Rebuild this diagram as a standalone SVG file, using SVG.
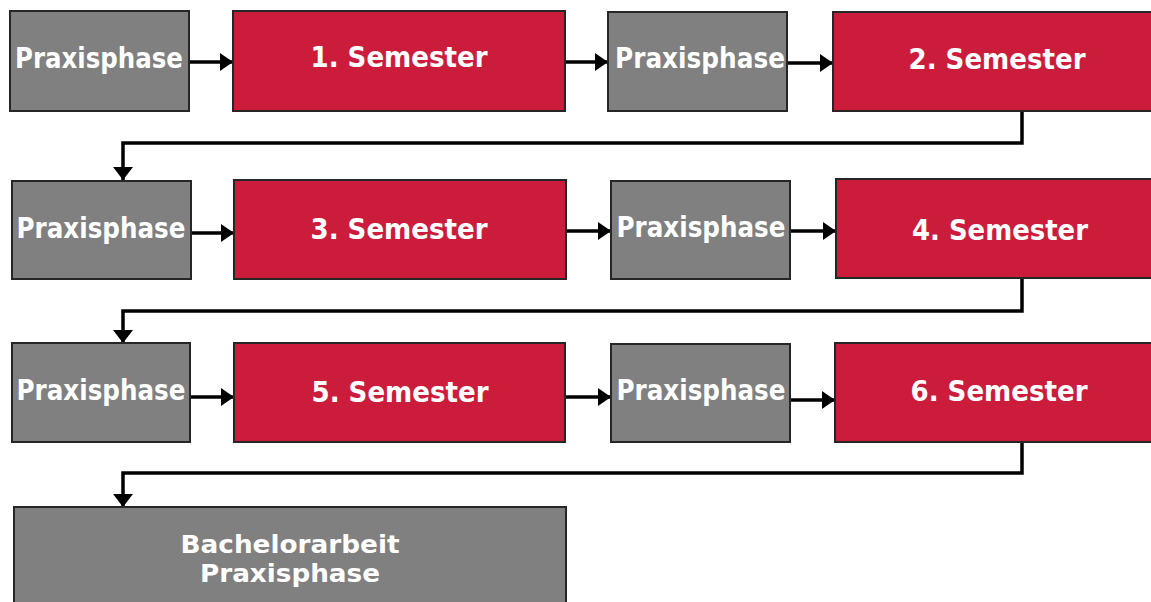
<svg xmlns="http://www.w3.org/2000/svg" width="1151" height="602" viewBox="0 0 1151 602">
<style>
.g{fill:#808080;stroke:#262626;stroke-width:2}
.r{fill:#CC1C3B;stroke:#262626;stroke-width:2}
.t{font-family:"DejaVu Sans Condensed","DejaVu Sans",sans-serif;font-stretch:condensed;font-weight:bold;font-size:28px;fill:#ffffff;text-anchor:middle}
.b{font-size:25px}
.c{fill:none;stroke:#000;stroke-width:3.5}
</style>
<defs>
<marker id="ah" markerWidth="13" markerHeight="18" refX="13" refY="9" orient="auto" markerUnits="userSpaceOnUse">
<path d="M0,0 L13,9 L0,18 Z" fill="#000"/>
</marker>
<marker id="av" markerWidth="13" markerHeight="20" refX="13" refY="10" orient="auto" markerUnits="userSpaceOnUse">
<path d="M0,0 L13,10 L0,20 Z" fill="#000"/>
</marker>
</defs>
<rect width="1151" height="602" fill="#fff"/>
<g id="connectors">
<path class="c" d="M189,62 H233" marker-end="url(#ah)"/>
<path class="c" d="M565,62 H608" marker-end="url(#ah)"/>
<path class="c" d="M787,63 H833" marker-end="url(#ah)"/>
<path class="c" d="M1022,111 V143 H123 V180" marker-end="url(#av)"/>
<path class="c" d="M191,233 H234" marker-end="url(#ah)"/>
<path class="c" d="M566,231 H611" marker-end="url(#ah)"/>
<path class="c" d="M790,231 H836" marker-end="url(#ah)"/>
<path class="c" d="M1022,278 V311 H123 V343" marker-end="url(#av)"/>
<path class="c" d="M190,397 H234" marker-end="url(#ah)"/>
<path class="c" d="M565,397 H611" marker-end="url(#ah)"/>
<path class="c" d="M790,400 H835" marker-end="url(#ah)"/>
<path class="c" d="M1022,442 V473 H123 V507" marker-end="url(#av)"/>
</g>
<g id="p1"><rect class="g" x="10" y="11" width="179" height="100"/><text class="t" x="99" y="68" textLength="168" lengthAdjust="spacingAndGlyphs">Praxisphase</text></g>
<g id="s1"><rect class="r" x="233" y="11" width="332" height="100"/><text class="t" x="399" y="67" textLength="177" lengthAdjust="spacingAndGlyphs">1. Semester</text></g>
<g id="p2"><rect class="g" x="608" y="12" width="179" height="99"/><text class="t" x="700" y="68" textLength="170" lengthAdjust="spacingAndGlyphs">Praxisphase</text></g>
<g id="s2"><rect class="r" x="833" y="12" width="330" height="99"/><text class="t" x="997" y="69" textLength="177" lengthAdjust="spacingAndGlyphs">2. Semester</text></g>
<g id="p3"><rect class="g" x="12" y="181" width="179" height="98"/><text class="t" x="101" y="238" textLength="169" lengthAdjust="spacingAndGlyphs">Praxisphase</text></g>
<g id="s3"><rect class="r" x="234" y="180" width="332" height="99"/><text class="t" x="399" y="239" textLength="177" lengthAdjust="spacingAndGlyphs">3. Semester</text></g>
<g id="p4"><rect class="g" x="611" y="181" width="179" height="98"/><text class="t" x="701" y="237" textLength="169" lengthAdjust="spacingAndGlyphs">Praxisphase</text></g>
<g id="s4"><rect class="r" x="836" y="179" width="330" height="99"/><text class="t" x="1000" y="240" textLength="176" lengthAdjust="spacingAndGlyphs">4. Semester</text></g>
<g id="p5"><rect class="g" x="12" y="343" width="178" height="99"/><text class="t" x="101" y="400" textLength="169" lengthAdjust="spacingAndGlyphs">Praxisphase</text></g>
<g id="s5"><rect class="r" x="234" y="343" width="331" height="99"/><text class="t" x="400" y="402" textLength="177" lengthAdjust="spacingAndGlyphs">5. Semester</text></g>
<g id="p6"><rect class="g" x="611" y="344" width="179" height="98"/><text class="t" x="701" y="400" textLength="169" lengthAdjust="spacingAndGlyphs">Praxisphase</text></g>
<g id="s6"><rect class="r" x="835" y="343" width="330" height="99"/><text class="t" x="999" y="401" textLength="177" lengthAdjust="spacingAndGlyphs">6. Semester</text></g>
<g id="bachelor"><rect class="g" x="14" y="507" width="552" height="105"/><text class="t b" x="290" y="553" textLength="219" lengthAdjust="spacingAndGlyphs">Bachelorarbeit</text><text class="t b" x="290" y="582" textLength="180" lengthAdjust="spacingAndGlyphs">Praxisphase</text></g>
</svg>
